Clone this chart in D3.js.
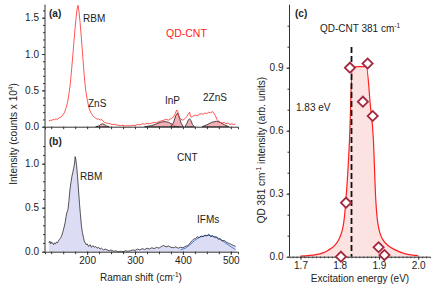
<!DOCTYPE html>
<html>
<head>
<meta charset="utf-8">
<script src="https://cdn.jsdelivr.net/npm/d3@7"></script>
<style>
  body { margin: 0; background: #fff; }
  svg { font-family: 'Liberation Sans', Arial, sans-serif; }
  .axis path, .axis line { stroke: #333; }
  .axis text { font-size: 10px; fill: #222; }
</style>
</head>
<body>
<div class="chart-container"></div>
<script>
// Panel (a): QD-CNT spectrum [Raman shift, counts x 1e4]
const qdCnt = [
  [120,0.08],[123,0.09],[126,0.085],[129,0.10],[132,0.095],[135,0.11],[138,0.10],[141,0.12],
  [144,0.13],[147,0.14],[150,0.17],[153,0.20],[156,0.26],[159,0.33],[162,0.45],[165,0.60],
  [168,0.82],[171,1.05],[174,1.30],[177,1.50],[179,1.62],[181,1.67],[183,1.58],[185,1.45],
  [188,1.22],[191,0.95],[194,0.70],[197,0.50],[200,0.38],[203,0.28],[206,0.22],[209,0.18],
  [212,0.15],[215,0.13],[218,0.12],[221,0.10],[224,0.11],[227,0.09],[230,0.10],[233,0.08],
  [236,0.06],[240,0.05],[244,0.045],[248,0.04],[252,0.03],[256,0.035],[260,0.025],[265,0.02],
  [270,0.015],[275,0.02],[280,0.01],[285,0.015],[290,0.01],[295,0.02],[300,0.015],[305,0.03],
  [310,0.025],[315,0.04],[320,0.035],[325,0.045],[330,0.04],[335,0.05],[340,0.06],[345,0.055],
  [350,0.07],[355,0.08],[360,0.09],[365,0.10],[370,0.09],[375,0.11],[380,0.13],[384,0.18],
  [387,0.23],[389,0.21],[392,0.13],[396,0.10],[400,0.09],[404,0.11],[408,0.14],[411,0.17],
  [414,0.20],[416,0.14],[419,0.13],[422,0.15],[426,0.16],[430,0.15],[434,0.17],[438,0.18],
  [442,0.17],[446,0.19],[450,0.18],[454,0.20],[458,0.19],[462,0.21],[465,0.18],[468,0.15],
  [471,0.10],[474,0.08],[478,0.06],[482,0.05],[486,0.06],[490,0.04],[494,0.05],[498,0.03],
  [502,0.04],[506,0.03],[510,0.035]
];

// Panel (a): fitted components
const qdPeaks = [
  [[218,0],[224,0.01],[228,0.03],[232,0.04],[236,0.03],[240,0.01],[246,0]],
  [[320,0],[335,0.015],[345,0.04],[355,0.065],[363,0.07],[370,0.06],[377,0.035],[384,0.01],[392,0]],
  [[374,0],[380,0.05],[385,0.15],[389,0.19],[392,0.14],[396,0.05],[401,0]],
  [[404,0],[408,0.04],[411,0.09],[414,0.11],[417,0.08],[420,0.03],[424,0]],
  [[440,0],[450,0.025],[460,0.06],[470,0.075],[478,0.06],[487,0.025],[496,0]]
];

// Panel (b): CNT spectrum
const cnt = [
  [120,0.10],[122,0.12],[124,0.09],[126,0.11],[128,0.10],[130,0.08],[132,0.10],[134,0.09],
  [136,0.11],[138,0.10],[140,0.12],[142,0.14],[144,0.15],[146,0.17],[148,0.20],[150,0.24],
  [152,0.28],[154,0.33],[156,0.40],[158,0.45],[160,0.48],[162,0.58],[164,0.70],[166,0.78],
  [168,0.85],[170,0.90],[172,0.95],[174,1.02],[175,1.08],[176,1.06],[178,0.98],[180,0.85],
  [182,0.70],[184,0.55],[186,0.42],[188,0.30],[190,0.22],[192,0.17],[194,0.12],[196,0.10],
  [198,0.08],[200,0.09],[203,0.06],[206,0.08],[209,0.05],[212,0.07],[215,0.05],[218,0.06],
  [221,0.04],[224,0.05],[227,0.03],[230,0.04],[234,0.02],[238,0.03],[242,0.02],[246,0.01],
  [250,0.02],[255,0.005],[260,0.01],[265,0.0],[270,0.005],[275,0.0],[280,0.01],[285,0.005],
  [290,0.01],[295,0.02],[300,0.015],[305,0.03],[310,0.02],[315,0.035],[320,0.025],[325,0.04],
  [330,0.03],[335,0.045],[340,0.035],[345,0.05],[350,0.04],[355,0.06],[360,0.07],[365,0.055],
  [370,0.065],[375,0.05],[380,0.045],[385,0.055],[390,0.04],[395,0.05],[400,0.045],[405,0.06],
  [410,0.07],[414,0.09],[418,0.12],[422,0.14],[426,0.15],[430,0.17],[434,0.16],[438,0.18],
  [442,0.17],[446,0.19],[450,0.18],[454,0.20],[458,0.17],[462,0.18],[466,0.16],[470,0.17],
  [474,0.14],[478,0.15],[482,0.12],[486,0.13],[490,0.11],[494,0.10],[498,0.09],[502,0.08],
  [506,0.07],[510,0.06]
];

// Panel (b): IFM fit
const ifmFit = [
  [395,0.02],[405,0.04],[415,0.08],[425,0.13],[435,0.165],[445,0.18],[455,0.185],[465,0.175],
  [475,0.15],[485,0.115],[495,0.075],[505,0.04],[510,0.025]
];

// Panel (c): measured points [excitation energy eV, intensity]
const excitation = [
  [1.803,0.0],[1.816,0.257],[1.826,0.90],[1.859,0.738],[1.871,0.92],[1.884,0.67],[1.899,0.045],[1.914,0.008]
];

// Panel (c): fitted profile
const profileFit = [
  [1.70,0.003],[1.74,0.01],[1.77,0.03],[1.797,0.08],[1.81,0.16],[1.817,0.30],[1.825,0.56],
  [1.832,0.90],[1.85,0.905],[1.868,0.905],[1.878,0.72],[1.886,0.55],[1.891,0.30],[1.897,0.16],
  [1.91,0.08],[1.944,0.03],[1.97,0.012],[2.0,0.005]
];

const resonance = 1.83;

const ramanTicks = [200, 300, 400, 500];
const ticksA = [0, 0.5, 1.0, 1.5];
const ticksB = [0, 0.5, 1.0];
const energyTicks = [1.7, 1.8, 1.9, 2.0];
const ticksC = [0, 0.3, 0.6, 0.9];

const svg = d3.select('.chart-container')
  .append('svg')
  .attr('width', 436)
  .attr('height', 289);

// Scales
const xR = d3.scaleLinear().domain([112, 515]).range([45, 238]);
const yA = d3.scaleLinear().domain([0, 1.68]).range([126.7, 4.6]);
const yB = d3.scaleLinear().domain([0, 1.3]).range([251.7, 137.3]);
const xE = d3.scaleLinear().domain([1.672, 2.03]).range([289.5, 430]);
const yC = d3.scaleLinear().domain([0, 1.2]).range([256.7, 4.7]);

const fmt1 = d3.format('.1f');
const minorR = d3.range(125, 515, 25);

function cleanDomain(g) { g.select('.domain').remove(); }

// ---- left axis line (shared)
svg.append('line')
  .attr('x1', 45).attr('x2', 45).attr('y1', 4.6).attr('y2', 252)
  .attr('stroke', '#333');

// ---- Panel (a)
const lineA = d3.line().x(d => xR(d[0])).y(d => yA(d[1]));
const areaA = d3.area().x(d => xR(d[0])).y0(yA(0)).y1(d => yA(d[1]));

svg.append('g').selectAll('path')
  .data(qdPeaks)
  .join('path')
  .attr('d', areaA)
  .attr('fill', '#f08c96')
  .attr('fill-opacity', 0.7)
  .attr('stroke', '#222')
  .attr('stroke-width', 0.8);

svg.append('path')
  .datum(qdCnt)
  .attr('d', lineA)
  .attr('fill', 'none')
  .attr('stroke', '#ff2a2a')
  .attr('stroke-width', 0.8);

svg.append('g')
  .attr('class', 'axis')
  .attr('transform', `translate(0,${yA(0)})`)
  .call(d3.axisBottom(xR).tickValues(minorR).tickSize(2.5).tickFormat(''));

svg.append('g')
  .attr('class', 'axis')
  .attr('transform', 'translate(45,0)')
  .call(d3.axisLeft(yA).tickValues(d3.range(0, 1.65, 0.1)).tickSize(2).tickFormat(''))
  .call(cleanDomain);

svg.append('g')
  .attr('class', 'axis')
  .attr('transform', 'translate(45,0)')
  .call(d3.axisLeft(yA).tickValues(ticksA).tickSize(3).tickFormat(fmt1))
  .call(cleanDomain);

// ---- Panel (b)
const lineB = d3.line().x(d => xR(d[0])).y(d => yB(d[1]));
const areaB = d3.area().x(d => xR(d[0])).y0(yB(0)).y1(d => yB(d[1]));

svg.append('path')
  .datum(cnt)
  .attr('d', areaB)
  .attr('fill', '#dcdcf4');

svg.append('path')
  .datum(ifmFit)
  .attr('d', lineB)
  .attr('fill', 'none')
  .attr('stroke', '#4a7fd6')
  .attr('stroke-width', 1);

svg.append('path')
  .datum(cnt)
  .attr('d', lineB)
  .attr('fill', 'none')
  .attr('stroke', '#111')
  .attr('stroke-width', 0.7);

svg.append('g')
  .attr('class', 'axis')
  .attr('transform', `translate(0,${yB(0)})`)
  .call(d3.axisBottom(xR).tickValues(minorR).tickSize(2.5).tickFormat(''));

svg.append('g')
  .attr('class', 'axis')
  .attr('transform', `translate(0,${yB(0)})`)
  .call(d3.axisBottom(xR).tickValues(ramanTicks).tickSize(3).tickPadding(2))
  .call(cleanDomain);

svg.append('g')
  .attr('class', 'axis')
  .attr('transform', 'translate(45,0)')
  .call(d3.axisLeft(yB).tickValues(d3.range(0, 1.25, 0.1)).tickSize(2).tickFormat(''))
  .call(cleanDomain);

svg.append('g')
  .attr('class', 'axis')
  .attr('transform', 'translate(45,0)')
  .call(d3.axisLeft(yB).tickValues(ticksB).tickSize(3).tickFormat(fmt1))
  .call(cleanDomain);

// ---- Panel (c)
const lineC = d3.line().x(d => xE(d[0])).y(d => yC(d[1])).curve(d3.curveMonotoneX);
const areaC = d3.area().x(d => xE(d[0])).y0(yC(0)).y1(d => yC(d[1])).curve(d3.curveMonotoneX);

svg.append('path')
  .datum(profileFit)
  .attr('d', areaC)
  .attr('fill', '#fde2e2');

svg.append('path')
  .datum(profileFit)
  .attr('d', lineC)
  .attr('fill', 'none')
  .attr('stroke', '#ff1f1f')
  .attr('stroke-width', 1.2);

svg.append('line')
  .attr('x1', xE(resonance)).attr('x2', xE(resonance))
  .attr('y1', 47).attr('y2', yC(0))
  .attr('stroke', '#111')
  .attr('stroke-width', 1.8)
  .attr('stroke-dasharray', '6,3');

svg.append('g')
  .attr('class', 'axis')
  .attr('transform', `translate(0,${yC(0)})`)
  .call(d3.axisBottom(xE).tickValues(d3.range(1.68, 2.03, 0.01)).tickSize(1.5).tickFormat(''));

svg.append('g')
  .attr('class', 'axis')
  .attr('transform', `translate(0,${yC(0)})`)
  .call(d3.axisBottom(xE).tickValues(energyTicks).tickSize(3).tickPadding(2).tickFormat(fmt1))
  .call(cleanDomain);

svg.append('g')
  .attr('class', 'axis')
  .attr('transform', 'translate(289.5,0)')
  .call(d3.axisLeft(yC).tickValues(d3.range(0, 1.15, 0.1)).tickSize(2).tickFormat(''))
  .call(g => g.select('.domain').attr('d', `M0,${yC(1.2)}V${yC(0)}`));

svg.append('g')
  .attr('class', 'axis')
  .attr('transform', 'translate(289.5,0)')
  .call(d3.axisLeft(yC).tickValues(ticksC).tickSize(3).tickFormat(fmt1))
  .call(cleanDomain);

svg.append('g').selectAll('rect')
  .data(excitation)
  .join('rect')
  .attr('x', -3.6).attr('y', -3.6)
  .attr('width', 7.2).attr('height', 7.2)
  .attr('transform', d => `translate(${xE(d[0])},${yC(d[1])}) rotate(45)`)
  .attr('fill', '#fff')
  .attr('stroke', '#a3283f')
  .attr('stroke-width', 1.8);

// ---- Labels
function label(x, y, text, opts = {}) {
  const t = svg.append('text')
    .attr('x', x).attr('y', y)
    .attr('font-size', opts.size || 10)
    .attr('fill', opts.fill || '#222')
    .attr('font-weight', opts.bold ? 'bold' : null)
    .attr('text-anchor', opts.anchor || 'start');
  return t.text(text);
}
function sup(t, s, after) {
  t.append('tspan').attr('dy', -4).attr('font-size', 6.5).text(s);
  if (after) t.append('tspan').attr('dy', 4).text(after);
  return t;
}

label(49, 17, '(a)', { bold: true });
label(83, 22, 'RBM');
label(166, 37, 'QD-CNT', { fill: '#ff2020', size: 10.5 });
label(88, 107, 'ZnS');
label(165, 104, 'InP');
label(203, 101, '2ZnS');

label(49, 145, '(b)', { bold: true });
label(177, 161, 'CNT');
label(80, 180, 'RBM');
label(197, 223, 'IFMs');

label(295, 17, '(c)', { bold: true });
sup(label(320, 32, 'QD-CNT 381 cm'), '-1');
label(296, 111, '1.83 eV');

const tx = label(141, 281, 'Raman shift (cm', { anchor: 'middle' });
sup(tx, '-1', ')');
label(360, 282, 'Excitation energy (eV)', { anchor: 'middle' });

const ty = svg.append('text')
  .attr('transform', 'translate(17,134) rotate(-90)')
  .attr('text-anchor', 'middle')
  .attr('font-size', 10)
  .attr('fill', '#222')
  .text('Intensity (counts x 10');
sup(ty, '4', ')');

const tyc = svg.append('text')
  .attr('transform', 'translate(265,150) rotate(-90)')
  .attr('text-anchor', 'middle')
  .attr('font-size', 10)
  .attr('fill', '#222')
  .text('QD 381 cm');
sup(tyc, '-1', ' intensity (arb. units)');
</script>
</body>
</html>
